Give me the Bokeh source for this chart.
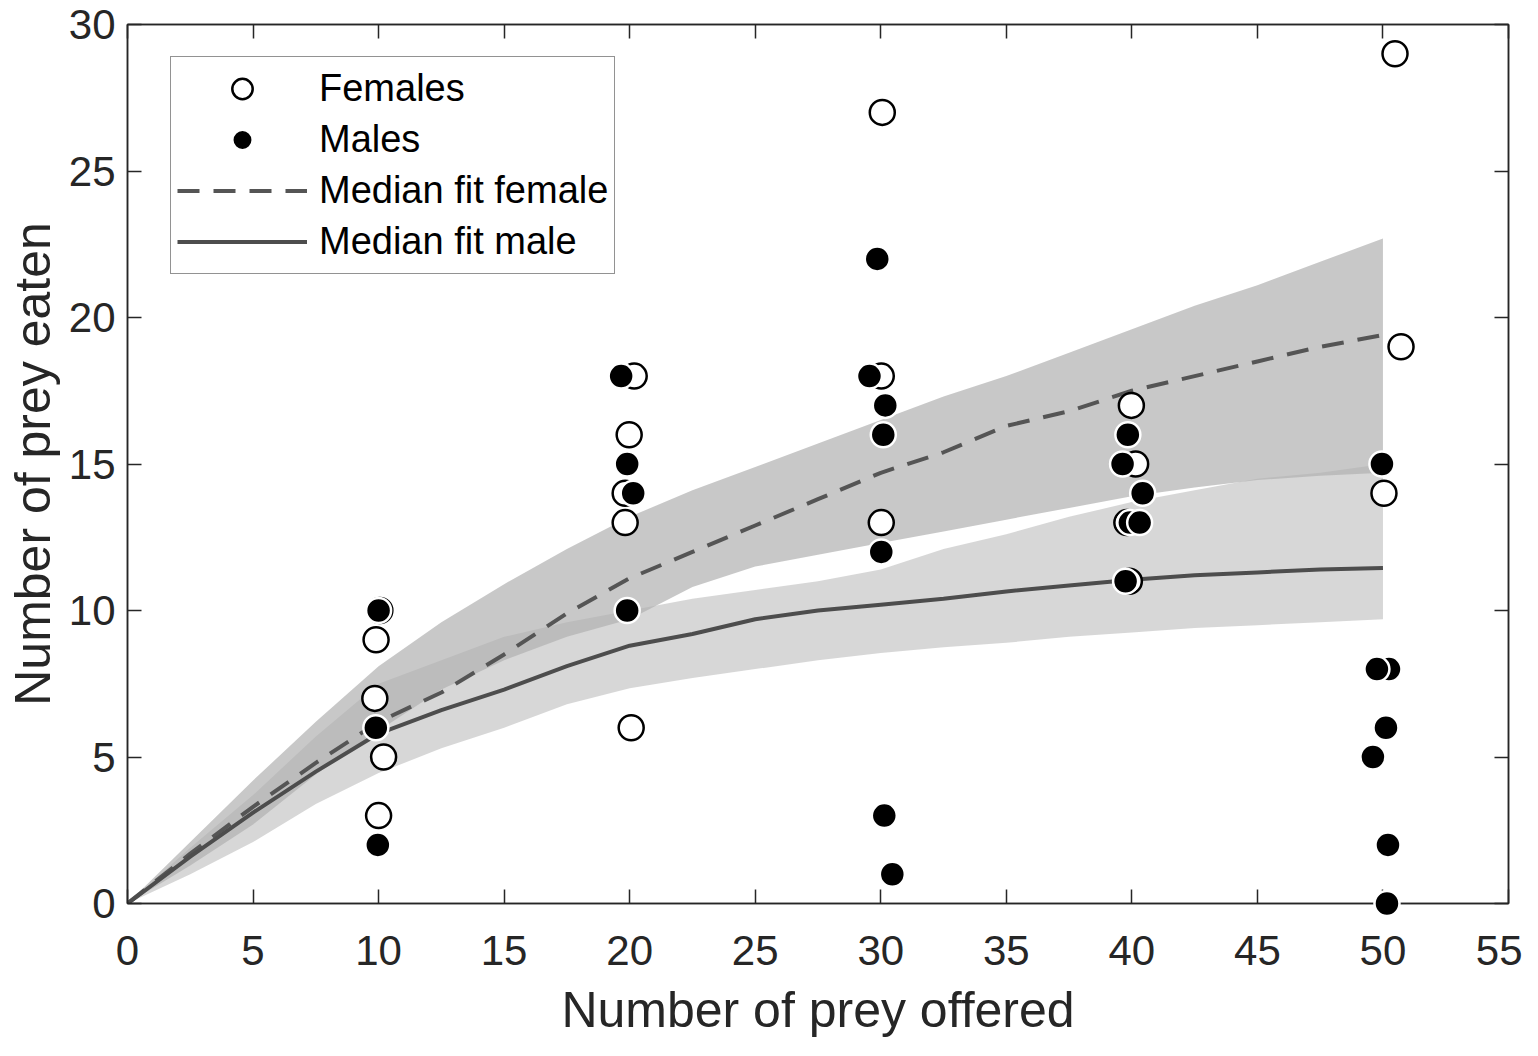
from bokeh.plotting import figure
from bokeh.models import (LinearAxis, Range1d, FixedTicker, Legend, LegendItem,
                          CustomLabelingPolicy)
from bokeh.embed import file_html
from bokeh.resources import INLINE

# ---- data ----
curve_x = [0, 2.5, 5, 7.5, 10, 12.5, 15, 17.5, 20, 22.5, 25, 27.5, 30,
           32.5, 35, 37.5, 40, 42.5, 45, 47.5, 50]
female_median = [0, 1.7, 3.3, 4.8, 6.2, 7.2, 8.5, 9.9, 11.1, 12.0, 12.9, 13.8, 14.7,
                 15.4, 16.3, 16.8, 17.5, 18.0, 18.5, 19.0, 19.4]
female_upper = [0, 2.1, 4.2, 6.2, 8.1, 9.6, 10.9, 12.1, 13.2, 14.1, 14.9, 15.7, 16.5,
                17.3, 18.0, 18.8, 19.6, 20.4, 21.1, 21.9, 22.7]
female_lower = [0, 1.3, 2.7, 4.4, 5.9, 7.3, 8.3, 9.1, 9.7, 10.8, 11.5, 11.9, 12.3,
                12.7, 13.1, 13.5, 13.9, 14.2, 14.45, 14.6, 14.7]
male_median = [0, 1.6, 3.1, 4.5, 5.8, 6.6, 7.3, 8.1, 8.8, 9.2, 9.7, 10.0, 10.2,
               10.4, 10.65, 10.85, 11.05, 11.2, 11.3, 11.4, 11.45]
male_upper = [0, 1.9, 3.7, 5.7, 7.5, 8.3, 9.1, 9.6, 10.0, 10.4, 10.7, 11.0, 11.4,
              12.1, 12.6, 13.2, 13.7, 14.1, 14.5, 14.7, 15.0]
male_lower = [0, 1.0, 2.1, 3.4, 4.45, 5.3, 6.0, 6.8, 7.35, 7.7, 8.0, 8.3, 8.55,
              8.75, 8.9, 9.1, 9.25, 9.4, 9.5, 9.6, 9.7]

female_x = [10.05, 9.9, 9.85, 10.2, 10.0,
            20.18, 19.98, 19.82, 19.82, 20.06,
            30.06, 30.02, 30.02,
            39.98, 40.15, 39.8, 39.9,
            50.48, 50.72, 50.04]
female_y = [10, 9, 7, 5, 3,
            18, 16, 14, 13, 6,
            27, 18, 13,
            17, 15, 13, 11,
            29, 19, 14]

male_x = [10.0, 9.89, 9.97,
          19.66, 19.9, 20.14, 19.9,
          29.86, 29.55, 30.18, 30.1, 30.02, 30.14, 30.46,
          39.84, 39.63, 40.43, 39.92, 40.31, 39.75,
          49.96, 50.24, 49.76, 50.12, 49.6, 50.2, 50.16]
male_y = [10, 6, 2,
          18, 15, 14, 10,
          22, 18, 17, 16, 12, 3, 1,
          16, 15, 14, 13, 13, 11,
          15, 8, 8, 6, 5, 2, 0]

x_ticks = [0, 5, 10, 15, 20, 25, 30, 35, 40, 45, 50, 55]
y_ticks = [0, 5, 10, 15, 20, 25, 30]

FONT = "Liberation Sans"
AX = "#262626"

p = figure(width=1522, height=1040, output_backend="svg", toolbar_location=None,
           x_range=Range1d(0, 55), y_range=Range1d(0, 30),
           min_border_left=127, min_border_right=14, min_border_top=24,
           min_border_bottom=135)
p.xgrid.visible = False
p.ygrid.visible = False
p.outline_line_color = AX
p.outline_line_width = 1.5

# bands
p.varea(x=curve_x, y1=male_lower, y2=male_upper, fill_color="#afafaf", fill_alpha=0.5)
p.varea(x=curve_x, y1=female_lower, y2=female_upper, fill_color="#b0b0b0", fill_alpha=0.7)

# median fits
r_fl = p.line(curve_x, female_median, line_color="#555555", line_width=4, line_dash="22 14")
r_ml = p.line(curve_x, male_median, line_color="#4d4d4d", line_width=4)

# points (drawn unclipped, like the reference)
r_f = p.scatter(female_x, female_y, marker="circle", size=25, fill_color="white",
                line_color="black", line_width=2.5, level="annotation")
r_m = p.scatter(male_x, male_y, marker="circle", size=25, fill_color="black",
                line_color="white", line_width=2.5, level="annotation")

hide_labels = CustomLabelingPolicy(code="""
try {
  const ids = Array.from(indices.ones ? indices.ones() : indices)
  for (const i of ids) {
    if (typeof indices.unset === "function") { indices.unset(i) } else { indices.set(i, false) }
  }
} catch (e) {}
return indices
""")

def style_axis(ax, ticks, show_labels):
    ax.ticker = FixedTicker(ticks=ticks)
    ax.minor_tick_line_color = None
    ax.major_tick_in = 14
    ax.major_tick_out = 0
    ax.major_tick_line_color = AX
    ax.major_tick_line_width = 1.5
    ax.axis_line_color = AX
    ax.axis_line_width = 1.5
    ax.major_label_text_font = FONT
    ax.major_label_text_color = AX
    ax.axis_label_text_font = FONT
    ax.axis_label_text_font_style = "normal"
    ax.axis_label_text_color = AX
    if show_labels:
        ax.major_label_text_font_size = "42px"
        ax.axis_label_text_font_size = "50px"
    else:
        ax.major_label_text_font_size = "0px"
        ax.major_label_standoff = 0
        ax.major_label_policy = hide_labels

xa = p.xaxis[0]
ya = p.yaxis[0]
style_axis(xa, x_ticks, True)
style_axis(ya, y_ticks, True)
xa.axis_label = "Number of prey offered"
ya.axis_label = "Number of prey eaten"
xa.major_label_standoff = 32
xa.axis_label_standoff = 14
ya.major_label_standoff = 12
ya.axis_label_standoff = 5

top = LinearAxis()
style_axis(top, x_ticks, False)
p.add_layout(top, "above")
right = LinearAxis()
style_axis(right, y_ticks, False)
p.add_layout(right, "right")

legend = Legend(items=[
    LegendItem(label="Females", renderers=[r_f]),
    LegendItem(label="Males", renderers=[r_m]),
    LegendItem(label="Median fit female", renderers=[r_fl]),
    LegendItem(label="Median fit male", renderers=[r_ml]),
], location=(43, 629))
legend.label_text_font = FONT
legend.label_text_font_size = "38px"
legend.label_text_color = "black"
legend.glyph_width = 130
legend.glyph_height = 51
legend.label_height = 40
legend.spacing = 0
legend.padding = 6
legend.margin = 0
legend.label_standoff = 12
legend.border_line_color = AX
legend.border_line_width = 1.5
legend.background_fill_color = "white"
legend.background_fill_alpha = 1.0
p.add_layout(legend, "center")

open("out.html", "w").write(file_html(p, INLINE))
